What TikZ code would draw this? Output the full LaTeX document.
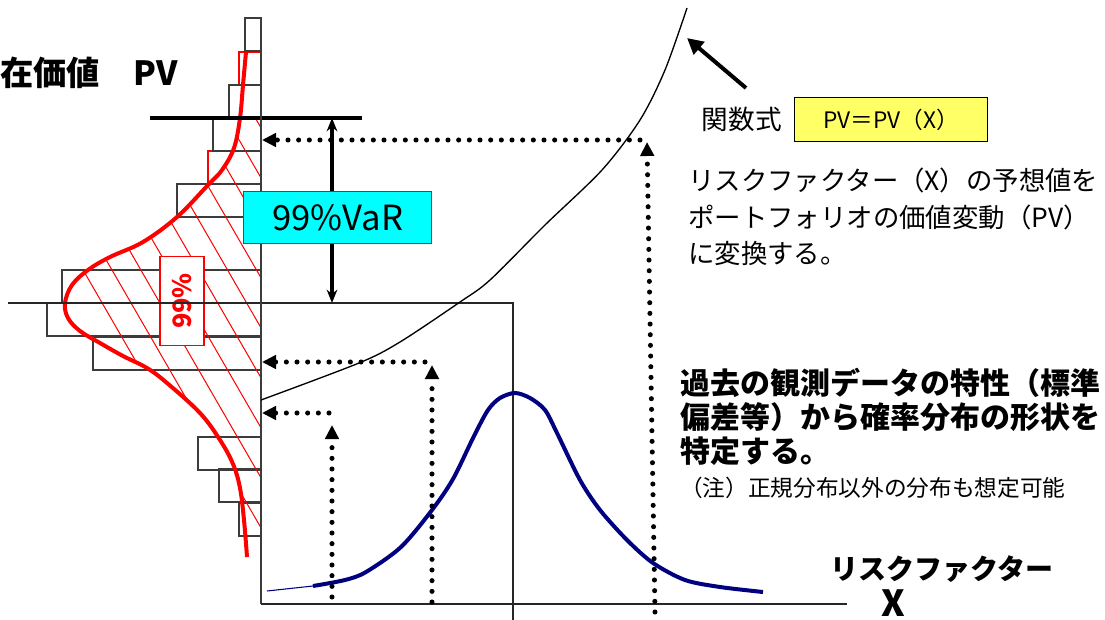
\documentclass[tikz,border=0pt]{standalone}
\usepackage{fontspec}
\setmainfont{Noto Sans CJK JP}
\usepackage{xcolor}
\usetikzlibrary{arrows.meta,positioning,calc}
\definecolor{varcyan}{RGB}{0,255,255}
\definecolor{funcyellow}{RGB}{255,255,102}
\definecolor{bellblue}{RGB}{0,0,128}
\definecolor{barline}{RGB}{60,60,60}
\tikzset{
	bar/.style={draw=barline, line width=1.1pt},
	redbar/.style={draw=red, line width=1.1pt},
	hatchline/.style={red, line width=0.75pt},
	boxline/.style={draw=black!85, line width=0.8pt},
	dotarrow/.style={line width=3.8pt, line cap=round, dash pattern=on 0pt off 8pt,
		-{Triangle[length=10.5pt,width=10pt]}},
	vararrow/.style={{Stealth[length=10pt,width=8pt]}-{Stealth[length=10pt,width=8pt]}, line width=2.3pt},
	ptrarrow/.style={-{Triangle[length=12pt,width=12pt]}, line width=3pt},
	txtlabel/.style={inner sep=0pt, align=left}
}

\begin{document}
\begin{tikzpicture}[x=0.75pt, y=-0.75pt]
	\useasboundingbox[fill=white] (0,0) rectangle (1105,620);
	
	%% -- Histogram of the portfolio value (left)
	\foreach \yt/\xl in {52/239, 151/208}
		\draw[redbar] (\xl,\yt) rectangle (261,\yt+33);
	\foreach \yt/\xl in {18/245, 85/229, 118/213, 184/177, 270/62, 303/47,
		337/93, 437/198, 469/219, 503/239}
		\draw[bar] (\xl,\yt) rectangle (261,\yt+33);
	
	%% -- Hatched 99% area under the red curve
	\def\redcurve{plot[smooth, tension=0.6] coordinates {(246,52) (243,85) (240,118)
		(234,148) (222,170) (208,185) (177,217) (143,242) (110,257) (88,270) (72,285)
		(65,303) (68,318) (80,331) (100,343) (123,356) (147,368) (167,383) (200,413)
		(220,440) (233,464) (240,488) (244,520) (247,557)}}
	\begin{scope}
		\clip (0,118) rectangle (261,537);
		\clip \redcurve -- (261,557) -- (261,52) -- cycle;
		\foreach \k in {128,178,...,578}
			\draw[hatchline] (1,\k-450) -- (290,\k+50);
	\end{scope}
	\draw[red, line width=3pt] \redcurve;
	
	\node[draw=red, fill=white, line width=0.9pt, rotate=90, inner sep=0pt,
	minimum width=67pt, minimum height=33pt, text=red,
	font=\bfseries\fontsize{19}{22}\selectfont] (pct) at (182,301) {99\%};
	
	%% -- Frame lines and axes
	\draw[line width=3pt] (150,118) -- (362,118);
	\draw[boxline, line width=1pt] (8,303) -- (513,303) -- (513,620);
	\draw[bar] (261,18) -- (261,604);
	\draw[boxline] (261,604) -- (847,604);
	
	%% -- Function PV = PV(X)
	\draw[black, line width=1pt] plot[smooth] coordinates {(261,400) (359,363)
		(400,342) (460,302) (490,280) (545,225) (602,170) (640,120)
		(665,70) (687,8)};
	
	%% -- Distribution of the risk factor
	\draw[bellblue, line width=0.8pt] (267,591) -- (313,586);
	\draw[bellblue, line width=3pt] plot[smooth] coordinates {(313,586) (345,580)
		(366,572) (401,547) (432,510) (453,479) (474,436) (488,410) (500,398)
		(515,393) (530,398) (545,410) (557,433) (580,480) (600,510) (627,540)
		(653,563) (685,580) (720,587) (763,592)};
	
	%% -- Mapping X -> PV (dotted)
	\coordinate (x1) at (332,597);  \coordinate (x1top) at (332,425);
	\coordinate (h1) at (329,413);  \coordinate (p1) at (262,413);
	\coordinate (x2) at (432,602);  \coordinate (x2top) at (432,365);
	\coordinate (h2) at (425,362);  \coordinate (p2) at (262,362);
	\coordinate (x3) at (655,612);  \coordinate (x3top) at (647,142);
	\coordinate (h3) at (640,140);  \coordinate (p3) at (262,140);
	\foreach \i in {1,2,3} {
		\draw[dotarrow] (x\i) -- (x\i top);
		\draw[dotarrow] (h\i) -- (p\i);
	}
	
	%% -- 99% VaR
	\coordinate (vartop) at (332,118);
	\coordinate (varbot) at (332,303);
	\draw[vararrow] (vartop) -- (varbot);
	\node[draw=black!70, fill=varcyan, line width=0.8pt, anchor=north west,
	minimum width=141pt, minimum height=39pt,
	font=\fontsize{26}{30}\selectfont] (var) at (243,191) {99\%VaR};
	
	%% -- Labels
	\node[txtlabel, anchor=base west, font=\bfseries\fontsize{25}{30}\selectfont]
	(pvlabel) at (0,86) {在価値　PV};
	
	\node[draw=black, fill=funcyellow, line width=0.8pt, anchor=north west,
	minimum width=145pt, minimum height=33pt,
	font=\fontsize{17}{20}\selectfont] (func) at (794,97) {PV＝PV（X）};
	\node[txtlabel, font=\fontsize{20}{24}\selectfont, left=9pt of func]
	(funclabel) {関数式};
	
	\node[txtlabel, anchor=north west, font=\fontsize{19.8}{27.4}\selectfont]
	(desc1) at (688,168)
	{リスクファクター（X）の予想値を\\ポートフォリオの価値変動（PV）\\に変換する。};
	
	\node[txtlabel, anchor=north west, font=\bfseries\fontsize{22.5}{25.5}\selectfont]
	(desc2) at (680,368)
	{過去の観測データの特性（標準\\偏差等）から確率分布の形状を\\特定する。};
	\node[txtlabel, anchor=north west, font=\fontsize{17}{20}\selectfont]
	(note) at (680,477) {（注）正規分布以外の分布も想定可能};
	
	\node[txtlabel, anchor=north west, font=\bfseries\fontsize{21}{25}\selectfont]
	(rflabel) at (830,555) {リスクファクター};
	\node[txtlabel, anchor=base, font=\bfseries\fontsize{27}{30}\selectfont]
	(xlabel) at (893,616) {X};
	
	%% -- Pointer to the function curve
	\coordinate (ptrtail) at (746,88);
	\coordinate (ptrtip) at (687,38);
	\draw[ptrarrow] (ptrtail) -- (ptrtip);
	
\end{tikzpicture}
\end{document}
